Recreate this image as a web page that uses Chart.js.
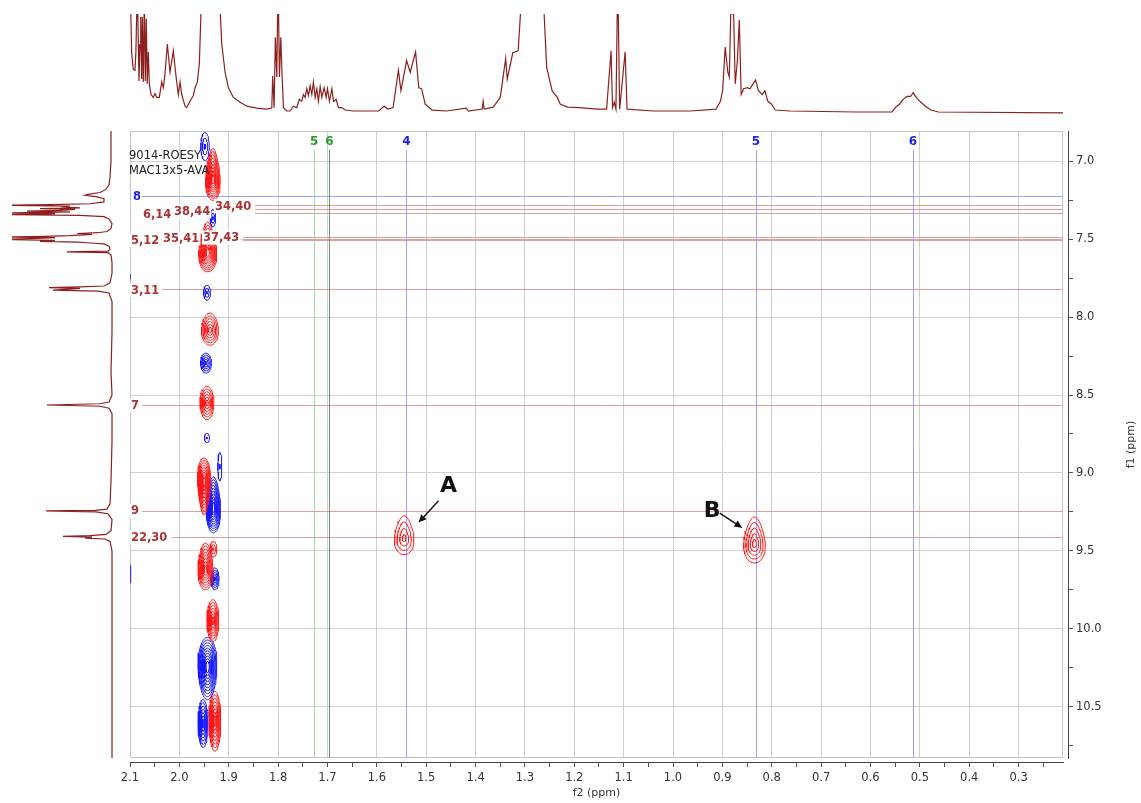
<!DOCTYPE html>
<html>
<head>
<meta charset="utf-8">
<title>9014-ROESY</title>
<script src="https://cdn.jsdelivr.net/npm/chart.js@4.4.1/dist/chart.umd.min.js"></script>
<style>
  html, body { margin: 0; padding: 0; background: #ffffff; }
  #wrap { position: relative; width: 1141px; height: 803px; overflow: hidden; }
  #wrap canvas { position: absolute; left: 0; top: 0; }
</style>
</head>
<body>
<div id="wrap">
  <canvas id="main" width="1141" height="803"></canvas>
  <canvas id="projTop" width="1141" height="130"></canvas>
  <canvas id="projLeft" width="130" height="803"></canvas>
</div>
<script>
// ---------- axis ranges and ticks (ppm) ----------
const f2Range = [0.21, 2.1];
const f1Range = [6.805, 10.83];

const f2Ticks = [2.1, 2.05, 2.0, 1.95, 1.9, 1.85, 1.8, 1.75, 1.7, 1.65, 1.6, 1.55, 1.5, 1.45, 1.4, 1.35, 1.3, 1.25,
  1.2, 1.15, 1.1, 1.05, 1.0, 0.95, 0.9, 0.85, 0.8, 0.75, 0.7, 0.65, 0.6, 0.55, 0.5, 0.45, 0.4, 0.35, 0.3, 0.25];
const f2TickLabels = ['2.1', '', '2.0', '', '1.9', '', '1.8', '', '1.7', '', '1.6', '', '1.5', '', '1.4', '', '1.3', '',
  '1.2', '', '1.1', '', '1.0', '', '0.9', '', '0.8', '', '0.7', '', '0.6', '', '0.5', '', '0.4', '', '0.3', ''];

const f1Ticks = [7.0, 7.25, 7.5, 7.75, 8.0, 8.25, 8.5, 8.75, 9.0, 9.25, 9.5, 9.75, 10.0, 10.25, 10.5, 10.75];
const f1TickLabels = ['7.0', '', '7.5', '', '8.0', '', '8.5', '', '9.0', '', '9.5', '', '10.0', '', '10.5', ''];

// ---------- 1D projection along f2 (top trace) ----------
const topPpm = [2.1, 2.0966, 2.0933, 2.0899, 2.088, 2.0852, 2.0832, 2.0818, 2.0797, 2.0783, 2.0763, 2.0751, 2.073,
  2.071, 2.069, 2.067, 2.0651, 2.0629, 2.0609, 2.0574, 2.0528, 2.0493, 2.0459, 2.0406, 2.0357, 2.0325, 2.0291,
  2.0244, 2.0189, 2.0122, 2.0068, 2.0021, 1.9986, 1.9952, 1.9885, 1.9851, 1.9784, 1.9717, 1.9682, 1.9636, 1.9595,
  1.9567, 1.9555, 1.937, 1.919, 1.9141, 1.9074, 1.9007, 1.8906, 1.877, 1.8634, 1.8432, 1.8229, 1.8128, 1.8109,
  1.8081, 1.8055, 1.8026, 1.8, 1.7973, 1.7945, 1.7919, 1.7892, 1.7824, 1.7757, 1.769, 1.7621, 1.757, 1.7521,
  1.7487, 1.7453, 1.7419, 1.7386, 1.7351, 1.7317, 1.7284, 1.725, 1.7215, 1.7183, 1.7148, 1.7114, 1.7067, 1.7027,
  1.7, 1.696, 1.6911, 1.6877, 1.6824, 1.6777, 1.6709, 1.6642, 1.6473, 1.6338, 1.596, 1.5853, 1.578, 1.567, 1.5563,
  1.5512, 1.5397, 1.5324, 1.5215, 1.515, 1.5093, 1.502, 1.4878, 1.4594, 1.4189, 1.4148, 1.3864, 1.3846, 1.3824,
  1.3641, 1.35, 1.339, 1.3358, 1.3246, 1.3137, 1.3066, 1.285, 1.263, 1.2559, 1.245, 1.2344, 1.2283, 1.2133, 1.1908,
  1.1533, 1.1345, 1.1255, 1.1225, 1.1189, 1.1156, 1.112, 1.1081, 1.097, 1.0931, 1.0406, 0.9656, 0.9129, 0.904,
  0.8995, 0.8943, 0.889, 0.886, 0.8817, 0.88, 0.8785, 0.874, 0.8696, 0.8657, 0.862, 0.8568, 0.8493, 0.844, 0.8379,
  0.8327, 0.827, 0.8191, 0.814, 0.8079, 0.8004, 0.7929, 0.7629, 0.6277, 0.5563, 0.5489, 0.5413, 0.5338, 0.5263,
  0.5188, 0.5135, 0.5075, 0.5, 0.4889, 0.4775, 0.4625, 0.21];
const topIntensity = [140, 59, 43, 42, 62, 130, 69, 31, 68, 97, 33, 97, 30,
  120, 31, 95, 28, 61, 28, 17, 14, 18, 14, 14, 30, 24, 38,
  69, 40, 62, 36, 17, 30, 17, 5, 3.5, 10, 16, 24, 30, 49,
  94, 120, 600, 120, 69, 40, 24, 14, 9, 5, 3, 2, 3, 36,
  3.5, 76, 35, 140, 35, 76, 36, 3.5, 0, 0, 5, 3.5, 12, 10,
  17, 14, 23, 16, 26, 17, 30, 14, 23, 10, 25, 14, 24, 14,
  23, 10, 23, 10, 12, 3.5, 3.5, 1, 0, 0, 0, 5, 2, 3.5, 42,
  21, 52, 40, 61, 24, 23, 7, 1, 0, 3, 0, 2, 10, 2,
  4, 14, 54, 33, 60, 62, 120, 800, 120, 45, 21, 14, 7, 4, 3.5,
  2, 2, 62, 3.5, 9, 2, 140, 2, 61, 2, 0, 0, 2, 10,
  21, 66, 40, 35, 130, 100, 130, 28, 52, 94, 17, 23, 24, 23, 28,
  32, 21, 17, 21, 10, 7, 1, 0, -1, -1, 4, 7, 12, 15,
  15, 19, 14, 10, 5, 1, -1, -2];

// ---------- 1D projection along f1 (left trace) ----------
const leftPpm = [6.805, 7.0, 7.1, 7.15, 7.18, 7.2, 7.212, 7.218, 7.226, 7.24, 7.26, 7.272, 7.278, 7.282, 7.287,
  7.293, 7.298, 7.303, 7.308, 7.314, 7.319, 7.324, 7.328, 7.331, 7.335, 7.339, 7.342, 7.347, 7.355, 7.37, 7.4,
  7.43, 7.45, 7.458, 7.463, 7.468, 7.476, 7.481, 7.485, 7.49, 7.496, 7.502, 7.507, 7.513, 7.518, 7.524, 7.53,
  7.545, 7.565, 7.576, 7.581, 7.586, 7.6, 7.65, 7.72, 7.78, 7.8, 7.806, 7.81, 7.815, 7.82, 7.827, 7.833, 7.845,
  7.9, 8.1, 8.35, 8.5, 8.545, 8.556, 8.564, 8.572, 8.585, 8.62, 8.8, 9.05, 9.2, 9.232, 9.24, 9.244, 9.25, 9.262,
  9.3, 9.37, 9.395, 9.402, 9.407, 9.412, 9.418, 9.424, 9.44, 9.5, 9.8, 10.2, 10.83];
const leftIntensity = [-1, -1, 0, 1, 4, 10, 22, 25, 14, 6, 6, 20, 60, 110, 40,
  45, 30, 70, 35, 50, 83, 40, 60, 110, 55, 75, 110, 30, 6, 1, -2,
  -1, 3, 12, 33, 18, 40, 65, 110, 55, 80, 110, 55, 70, 32, 20, 6,
  1, 0, 2, 43, 2, -1, -2, -2, 0, 6, 30, 61, 30, 40, 57, 12, 1,
  -2, -2, -1, -2, 1, 10, 63, 10, 1, -2, -2, -1, 0, 3, 15, 64, 14, 2,
  -2, -1, 4, 20, 47, 18, 25, 5, 0, -2, -2, -2, -2];

// ---------- 2D cross peaks (ppm); phase +1 positive, -1 negative ----------
const peakF2 = [1.948, 1.932, 1.932, 1.9425, 1.944, 1.938, 1.946, 1.944, 1.944, 1.950, 1.931, 1.918, 1.947, 1.931,
  1.928, 1.932, 1.943, 1.952, 1.928, 2.105, 2.104, 1.5446, 0.835];
const peakF1 = [6.905, 7.083, 7.365, 7.549, 7.843, 8.077, 8.295, 8.551, 8.776, 9.087, 9.205, 8.96, 9.600, 9.49,
  9.680, 9.949, 10.256, 10.609, 10.594, 7.74, 9.65, 9.400, 9.430];
const peakWidthF2 = [0.0085, 0.014, 0.0055, 0.017, 0.007, 0.017, 0.011, 0.014, 0.005, 0.0125, 0.014, 0.004, 0.015,
  0.007, 0.0085, 0.012, 0.019, 0.010, 0.012, 0.006, 0.006, 0.019, 0.021];
const peakWidthF1 = [0.09, 0.167, 0.055, 0.16, 0.048, 0.103, 0.064, 0.107, 0.03, 0.183, 0.18, 0.09, 0.15,
  0.05, 0.07, 0.135, 0.2, 0.154, 0.192, 0.03, 0.075, 0.125, 0.148];
const peakPhase = [-1, 1, -1, 1, -1, 1, -1, 1, -1, 1, -1, -1, 1, 1, -1, 1, -1, -1, 1, -1, -1, 1, 1];
const peakLevels = [3, 9, 3, 9, 3, 6, 5, 6, 2, 9, 10, 2, 8, 3, 5, 7, 10, 7, 8, 2, 2, 4, 5];
const peakSkew = [0, 0.35, 0, 0.4, 0, 0.1, 0, 0, 0, -0.3, 0.2, 0, 0.2, 0, 0, 0, -0.1, 0, 0, 0, 0, 0.3, 0.3];

// ---------- assignment lines ----------
const f1RefShift = [7.224, 7.282, 7.308, 7.329, 7.486, 7.496, 7.506, 7.820, 8.564, 9.244, 9.412];
const f1RefLabel = ['8', '34,40', '38,44', '6,14', '37,43', '35,41', '5,12', '3,11', '7', '9', '22,30'];
const f1RefGroup = ['b', 'r', 'r', 'r', 'r', 'r', 'r', 'r', 'r', 'r', 'r'];

const f2RefShift = [1.727, 1.696, 1.540, 0.832, 0.514];
const f2RefLabel = ['5', '6', '4', '5', '6'];
const f2RefGroup = ['g', 'g2', 'b', 'b', 'b'];

// cross-peak call-outs (ppm)
const calloutText = ['A', 'B'];
const calloutTextAt = [[1.4548, 9.088], [0.9209, 9.248]];
const calloutFrom = [[1.475, 9.178], [0.9054, 9.258]];
const calloutTo = [[1.5156, 9.319], [0.8594, 9.353]];

// ---------- styles ----------
const FONT = "'DejaVu Sans', Verdana, sans-serif";
const RED = 'rgb(255,24,24)';
const BLUE = 'rgb(24,24,255)';
const TRACE = '#8e1f1f';
const GRID = '#d0d0d0';
const refStyle = {
  r: { line: 'rgb(218,160,160)', text: '#a83434' },
  b: { line: 'rgb(160,160,246)', text: '#1e1ef0' },
  g: { line: 'rgb(160,210,160)', text: '#2f9a2f' },
  g2: { line: 'rgb(112,142,112)', text: '#2f9a2f' }
};
// label placement (pixels from the plot's left edge / from the line)
const f1LabelLayout = [
  { dx: 3, dy: 0, from: 12 }, { dx: 85, dy: 1, from: 125 }, { dx: 44, dy: 2, from: 125 },
  { dx: 13, dy: 2, from: 125 }, { dx: 73, dy: 0.5, from: 113 }, { dx: 33, dy: 0, from: 113 },
  { dx: 1, dy: 0, from: 113 }, { dx: 1, dy: 1, from: 32 }, { dx: 1, dy: 0.5, from: 12 },
  { dx: 1, dy: 0, from: 12 }, { dx: 1, dy: 0.5, from: 42 }
];

Chart.defaults.font.family = FONT;
Chart.defaults.color = '#333';

// ---------- contour rings for each cross peak ----------
function ring(cx, cy, rx, ry, skew, s) {
  const pts = [];
  const oy = cy + skew * ry * (1 - s) * 0.6;
  const N = 48;
  for (let j = 0; j <= N; j++) {
    const t = j / N * Math.PI * 2;
    const st = Math.sin(t);
    pts.push({ x: cx + rx * s * Math.cos(t) * (1 + skew * st), y: oy + ry * s * st });
  }
  return pts;
}
const contourSets = [];
peakF2.forEach((cx, i) => {
  const n = peakLevels[i];
  for (let k = 0; k < n; k++) {
    const s = n > 1 ? 1 - 0.82 * k / (n - 1) : 1;
    contourSets.push({
      data: ring(cx, peakF1[i], peakWidthF2[i], peakWidthF1[i], peakSkew[i], s),
      showLine: true, borderColor: peakPhase[i] > 0 ? RED : BLUE, borderWidth: 1,
      pointRadius: 0, tension: 0, clip: 0
    });
  }
});

// ---------- overlay: frame, assignment lines, labels, call-outs ----------
const overlay = {
  id: 'overlay',
  beforeDatasetsDraw(chart) {
    const { ctx, chartArea: a, scales: { x, y } } = chart;
    ctx.save();
    ctx.strokeStyle = '#c4c4c4';
    ctx.lineWidth = 1;
    ctx.strokeRect(a.left + 0.5, a.top + 0.5, a.right - a.left - 1, a.bottom - a.top - 1);
    ctx.beginPath();
    ctx.rect(a.left, a.top, a.right - a.left, a.bottom - a.top);
    ctx.clip();
    f1RefShift.forEach((v, i) => {
      const yy = Math.round(y.getPixelForValue(v)) + 0.5;
      ctx.strokeStyle = refStyle[f1RefGroup[i]].line;
      ctx.beginPath();
      ctx.moveTo(a.left + f1LabelLayout[i].from, yy);
      ctx.lineTo(a.right, yy);
      ctx.stroke();
    });
    f2RefShift.forEach((v, i) => {
      const xx = Math.round(x.getPixelForValue(v)) + 0.5;
      ctx.strokeStyle = refStyle[f2RefGroup[i]].line;
      ctx.beginPath();
      ctx.moveTo(xx, a.top + 19);
      ctx.lineTo(xx, a.bottom);
      ctx.stroke();
    });
    ctx.restore();
  },
  afterDatasetsDraw(chart) {
    const { ctx, chartArea: a, scales: { x, y } } = chart;
    ctx.save();
    // experiment names
    ctx.fillStyle = '#222';
    ctx.font = '11.5px ' + FONT;
    ctx.textBaseline = 'middle';
    ctx.textAlign = 'left';
    ctx.fillText('9014-ROESY', a.left - 1, a.top + 25);
    ctx.fillText('MAC13x5-AVA', a.left - 1, a.top + 40.5);

    // f1 assignment labels
    ctx.font = 'bold 11.5px ' + FONT;
    f1RefShift.forEach((v, i) => {
      const L = f1LabelLayout[i];
      const cy = y.getPixelForValue(v) + L.dy;
      const lx = a.left + L.dx;
      const w = ctx.measureText(f1RefLabel[i]).width;
      ctx.fillStyle = '#ffffff';
      ctx.fillRect(lx - 1, cy - 7, w + 2, 14);
      ctx.fillStyle = refStyle[f1RefGroup[i]].text;
      ctx.fillText(f1RefLabel[i], lx, cy + 0.5);
    });

    // f2 assignment labels
    ctx.textAlign = 'center';
    ctx.font = 'bold 12px ' + FONT;
    f2RefShift.forEach((v, i) => {
      ctx.fillStyle = refStyle[f2RefGroup[i]].text;
      ctx.fillText(f2RefLabel[i], x.getPixelForValue(v), a.top + 11);
    });

    // call-outs
    ctx.strokeStyle = '#111';
    ctx.fillStyle = '#111';
    ctx.lineWidth = 1.4;
    calloutText.forEach((t, i) => {
      const x0 = x.getPixelForValue(calloutFrom[i][0]), y0 = y.getPixelForValue(calloutFrom[i][1]);
      const x1 = x.getPixelForValue(calloutTo[i][0]), y1 = y.getPixelForValue(calloutTo[i][1]);
      const ang = Math.atan2(y1 - y0, x1 - x0);
      const head = 8, half = 3.6;
      const bx = x1 - head * Math.cos(ang), by = y1 - head * Math.sin(ang);
      ctx.beginPath();
      ctx.moveTo(x0, y0);
      ctx.lineTo(bx, by);
      ctx.stroke();
      ctx.beginPath();
      ctx.moveTo(x1, y1);
      ctx.lineTo(bx + half * Math.sin(ang), by - half * Math.cos(ang));
      ctx.lineTo(bx - half * Math.sin(ang), by + half * Math.cos(ang));
      ctx.closePath();
      ctx.fill();
      ctx.font = 'bold 22px ' + FONT;
      ctx.textAlign = 'center';
      ctx.textBaseline = 'middle';
      ctx.fillText(t, x.getPixelForValue(calloutTextAt[i][0]), y.getPixelForValue(calloutTextAt[i][1]));
    });
    ctx.restore();
  },
  afterDraw(chart) {
    const { ctx, chartArea: a } = chart;
    ctx.save();
    ctx.translate(1131, (a.top + a.bottom) / 2);
    ctx.rotate(-Math.PI / 2);
    ctx.fillStyle = '#333';
    ctx.font = '11px ' + FONT;
    ctx.textAlign = 'center';
    ctx.textBaseline = 'middle';
    ctx.fillText('f1 (ppm)', 0, 0);
    ctx.restore();
  }
};

// ---------- main 2D map ----------
new Chart(document.getElementById('main'), {
  type: 'scatter',
  data: { datasets: contourSets },
  options: {
    responsive: false, animation: false, devicePixelRatio: 1, events: [],
    layout: { padding: { left: 130, top: 131, right: 0, bottom: 0 } },
    plugins: { legend: { display: false }, tooltip: { enabled: false } },
    scales: {
      x: {
        type: 'linear', axis: 'x', position: 'bottom', weight: 1, reverse: true,
        min: f2Range[0], max: f2Range[1],
        afterBuildTicks: s => { s.ticks = f2Ticks.map(v => ({ value: v })); },
        afterFit: s => { s.height = 41; },
        ticks: {
          autoSkip: false, maxRotation: 0, padding: 4, color: '#333',
          font: { size: 11.5, family: FONT },
          callback: (v, i) => f2TickLabels[i]
        },
        grid: {
          drawOnChartArea: true, tickLength: 5, tickColor: '#555', lineWidth: 1,
          color: c => (f2TickLabels[c.index] ? GRID : 'rgba(0,0,0,0)')
        },
        border: { display: true, color: '#444', width: 1 },
        title: { display: true, text: 'f2 (ppm)', color: '#333', font: { size: 11, family: FONT }, padding: { top: 0, bottom: 3.5 } }
      },
      xGap: {
        type: 'linear', axis: 'x', position: 'bottom', weight: 0, display: true,
        grid: { display: false }, ticks: { display: false }, border: { display: false },
        afterFit: s => { s.height = 4; }
      },
      y: {
        type: 'linear', axis: 'y', position: 'right', weight: 1, reverse: true,
        min: f1Range[0], max: f1Range[1],
        afterBuildTicks: s => { s.ticks = f1Ticks.map(v => ({ value: v })); },
        afterFit: s => { s.width = 73; },
        ticks: {
          autoSkip: false, padding: 3, color: '#333',
          font: { size: 11.5, family: FONT },
          callback: (v, i) => f1TickLabels[i]
        },
        grid: {
          drawOnChartArea: true, tickLength: 5, tickColor: '#555', lineWidth: 1,
          color: c => (f1TickLabels[c.index] ? GRID : 'rgba(0,0,0,0)')
        },
        border: { display: true, color: '#444', width: 1 }
      },
      yGap: {
        type: 'linear', axis: 'y', position: 'right', weight: 0, display: true,
        grid: { display: false }, ticks: { display: false }, border: { display: false },
        afterFit: s => { s.width = 5; }
      }
    }
  },
  plugins: [overlay]
});

// ---------- top projection ----------
new Chart(document.getElementById('projTop'), {
  type: 'scatter',
  data: {
    datasets: [{
      data: topPpm.map((p, i) => ({ x: p, y: topIntensity[i] })),
      showLine: true, borderColor: TRACE, borderWidth: 1.2, pointRadius: 0, tension: 0, clip: 0
    }]
  },
  options: {
    responsive: false, animation: false, devicePixelRatio: 1, events: [],
    layout: { padding: { left: 130, right: 78, top: 14, bottom: 12 } },
    plugins: { legend: { display: false }, tooltip: { enabled: false } },
    scales: {
      x: { type: 'linear', display: false, reverse: true, min: f2Range[0], max: f2Range[1] },
      y: { type: 'linear', display: false, min: -7.2, max: 100 }
    }
  }
});

// ---------- left projection ----------
new Chart(document.getElementById('projLeft'), {
  type: 'scatter',
  data: {
    datasets: [{
      data: leftPpm.map((p, i) => ({ x: leftIntensity[i], y: p })),
      showLine: true, borderColor: TRACE, borderWidth: 1.2, pointRadius: 0, tension: 0, clip: 0
    }]
  },
  options: {
    responsive: false, animation: false, devicePixelRatio: 1, events: [],
    layout: { padding: { left: 12, right: 16, top: 131, bottom: 45 } },
    plugins: { legend: { display: false }, tooltip: { enabled: false } },
    scales: {
      x: { type: 'linear', display: false, reverse: true, min: -4, max: 98 },
      y: { type: 'linear', display: false, reverse: true, min: f1Range[0], max: f1Range[1] }
    }
  }
});
</script>
</body>
</html>
